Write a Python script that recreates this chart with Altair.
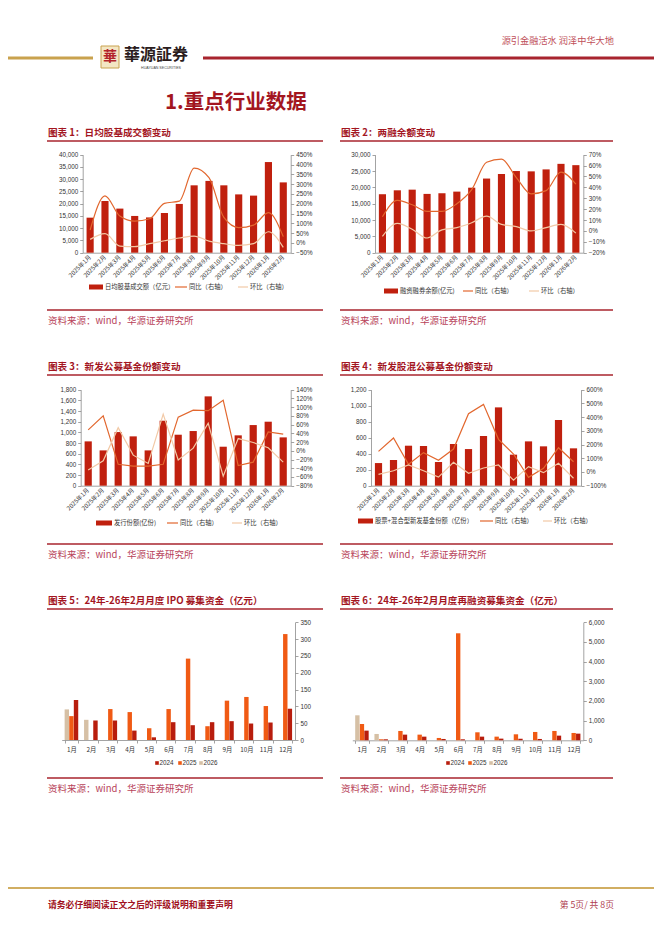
import altair as alt
import pandas as pd

# ---------------- data ----------------
months14 = ["2025年1月", "2025年2月", "2025年3月", "2025年4月", "2025年5月", "2025年6月", "2025年7月",
            "2025年8月", "2025年9月", "2025年10月", "2025年11月", "2025年12月", "2026年1月", "2026年2月"]

turnover = [14300, 21100, 18000, 15000, 14400, 16200, 19900, 27500, 29300, 27500, 23800, 23300, 37000, 28700]
turnover_yoy = [66, 240, 137, 111, 123, 202, 213, 382, 333, 130, 78, 91, 154, 32]
turnover_mom = [18, 47, -16, -19, -4, 11, 25, 35, 9, -4, -13, -4, 57, -23]

margin = [17900, 19100, 19300, 18000, 18200, 18700, 19900, 22700, 24100, 25000, 24900, 25500, 27200, 26800]
margin_yoy = [13, 28, 24, 18, 18, 25, 38, 63, 66, 49, 34, 37, 54, 43]
margin_mom = [-5, 7, 1.5, -6.5, 1, 3, 7.5, 13.5, 6, 4, 0, 3, 6, -2]

fund = [831, 662, 1006, 925, 662, 1219, 956, 1025, 1675, 731, 944, 1137, 1200, 906]
fund_yoy = [48, 80, -31, -35, -35, -31, 77, 93, 92, 116, -34, -26, 43, 38]
fund_mom = [-44, -23, 53, -10, -29, 84, -21, 6, 63, -58, 28, 19, 7, -26]

eq_fund = [283, 321, 500, 496, 296, 521, 458, 621, 979, 388, 554, 492, 821, 467]
eq_fund_yoy = [150, 248, 56, 141, 85, 167, 425, 493, 238, 131, -39, 27, 177, 75]
eq_fund_mom = [-17, 9, 51, 9, -37, 70, -10, 29, 51, -59, 39, -5, 63, -46]

months12 = ["1月", "2月", "3月", "4月", "5月", "6月", "7月", "8月", "9月", "10月", "11月", "12月"]
years = ["2024", "2025", "2026"]
ipo_2024 = [119, 58, 58, 28, 8, 53, 44, 53, 56, 49, 52, 93]
ipo_2025 = [71, 0, 92, 83, 35, 92, 242, 41, 117, 128, 101, 315]
ipo_2026 = [91, 60]
refi_2024 = [492, 51, 288, 186, 68, 51, 186, 85, 85, 68, 237, 339]
refi_2025 = [830, 51, 475, 288, 119, 5441, 407, 186, 305, 424, 475, 373]
refi_2026 = [1271, 322]

# ---------------- styles ----------------
W, H = 646, 920
CJK = "Noto Sans CJK SC"
NUM = "Liberation Sans, Noto Sans CJK SC"
BAR = "#C0200E"
YOY = "#E2672E"
MOM = "#F2C9A6"
C24, C25, C26 = "#B81D0D", "#F05A14", "#D6C0A5"
TITLE_RED = "#A3161F"
LINE_RED = "#A8252E"
SRC = "#B8435A"
GOLD = "#C9A24E"
AX = "#8C8C8C"
LAB = "#333333"

dummy = pd.DataFrame({"d": [0]})


def X(v):
    return v - 8


def Y(v):
    return v - 8


def txt(x, y, s, size, color, weight="normal", align="left", font=CJK):
    return alt.Chart(dummy).mark_text(align=align, baseline="middle", fontSize=size, color=color,
                                      fontWeight=weight, font=font).encode(
        x=alt.value(X(x)), y=alt.value(Y(y)), text=alt.value(s))


def hline(x0, x1, y, color, w):
    return alt.Chart(dummy).mark_rule(color=color, strokeWidth=w).encode(
        x=alt.value(X(x0)), x2=alt.value(X(x1)), y=alt.value(Y(y)))


def box(x0, x1, y0, y1, color, stroke=None):
    kw = {"color": color}
    if stroke:
        kw.update(stroke=stroke, strokeWidth=1)
    return alt.Chart(dummy).mark_rect(**kw).encode(
        x=alt.value(X(x0)), x2=alt.value(X(x1)), y=alt.value(Y(y0)), y2=alt.value(Y(y1)))


def axis_common(**kw):
    base = dict(title=None, grid=False, labelFont=NUM, labelFontSize=6.3, labelColor=LAB,
                domainColor=AX, tickColor=AX, domainWidth=0.8, tickWidth=0.8, tickSize=3,
                labelOverlap=False, labelFlush=False, labelBound=False, labelPadding=2)
    base.update(kw)
    return alt.Axis(**base)


def combo(bars, yoy, mom, x0, x1, ytop, ybot, ldom, lvals, rdom, rvals, interp):
    xr = [X(x0), X(x1)]
    yr = [Y(ybot), Y(ytop)]
    df = pd.DataFrame({"m": months14, "v": bars, "yoy": yoy, "mom": mom})

    def xs():
        return alt.Scale(type="band", domain=months14, range=xr, paddingInner=0.52, paddingOuter=0.26)

    bar = alt.Chart(df).mark_bar(color=BAR).encode(
        x=alt.X("m:N", scale=xs(), axis=axis_common(orient="bottom", offset=Y(ybot) - H, labelAngle=315,
                                                     labelAlign="right", labelBaseline="middle", ticks=False,
                                                     labelFont=CJK, labelFontSize=6.0, labelPadding=3)),
        y=alt.Y("v:Q", scale=alt.Scale(domain=ldom, range=yr, nice=False, zero=True),
                axis=axis_common(orient="left", offset=-X(x0), values=lvals,
                                 labelExpr="format(datum.value, ',.0f')")))
    l1 = alt.Chart(df).mark_line(color=YOY, strokeWidth=1.2, interpolate=interp).encode(
        x=alt.X("m:N", scale=xs(), axis=None, bandPosition=0.5),
        y=alt.Y("yoy:Q", scale=alt.Scale(domain=rdom, range=yr, nice=False, zero=False),
                axis=axis_common(orient="right", offset=X(x1) - W, values=rvals,
                                 labelExpr="format(datum.value, '.0f') + '%'")))
    l2 = alt.Chart(df).mark_line(color=MOM, strokeWidth=1.2, interpolate=interp).encode(
        x=alt.X("m:N", scale=xs(), axis=None, bandPosition=0.5),
        y=alt.Y("mom:Q", scale=alt.Scale(domain=rdom, range=yr, nice=False, zero=False), axis=None))
    return [bar, l1, l2]


def combo_legend(y, rx0, rx1, label, lx0, lx1, tx1, mx0, mx1, tx2):
    return [
        box(rx0, rx1, y - 2.5, y + 2.5, BAR),
        txt(rx1 + 2, y, label, 6.3, "#333333"),
        hline(lx0, lx1, y, YOY, 1.2),
        txt(tx1, y, "同比（右轴）", 6.3, "#333333"),
        hline(mx0, mx1, y, MOM, 1.2),
        txt(tx2, y, "环比（右轴）", 6.3, "#333333"),
    ]


def grouped(v24, v25, v26, x0, x1, ytop, ybot, dom, vals):
    rows = []
    for i, m in enumerate(months12):
        rows.append({"m": m, "yr": "2024", "v": v24[i]})
        rows.append({"m": m, "yr": "2025", "v": v25[i]})
        if i < len(v26):
            rows.append({"m": m, "yr": "2026", "v": v26[i]})
    df = pd.DataFrame(rows)
    ch = alt.Chart(df).mark_bar().encode(
        x=alt.X("m:N", scale=alt.Scale(type="band", domain=months12, range=[X(x0), X(x1)],
                                       paddingInner=0.3, paddingOuter=0.15),
                axis=axis_common(orient="bottom", offset=Y(ybot) - H, labelAngle=0, tickBand="extent",
                                 ticks=True, labelFont=CJK, labelFontSize=6.3, labelPadding=3)),
        xOffset=alt.XOffset("yr:N", scale=alt.Scale(domain=["2026", "2025", "2024"], paddingInner=0.04)),
        y=alt.Y("v:Q", scale=alt.Scale(domain=dom, range=[Y(ybot), Y(ytop)], nice=False, zero=True),
                axis=axis_common(orient="right", offset=X(x1) - W, values=vals,
                                 labelExpr="format(datum.value, ',.0f')")),
        color=alt.Color("yr:N", scale=alt.Scale(domain=years, range=[C24, C25, C26]), legend=None))
    return [ch]


def group_legend(y, xs):
    out = []
    for x, yr, c in zip(xs, years, [C24, C25, C26]):
        out.append(box(x - 1.8, x + 1.8, y - 1.8, y + 1.8, c))
        out.append(txt(x + 2.5, y, yr, 6.3, "#333333", font=NUM))
    return out


layers = []

# ---------------- header ----------------
layers += [
    hline(8, 93, 58, GOLD, 3),
    hline(203, 662, 58, LINE_RED, 3),
    box(101, 119, 46, 68, "#F3E6C4", stroke="#C9A24E"),
    txt(110, 57, "華", 14, "#B3232A", weight="bold", align="center"),
    txt(124, 55, "華源証券", 16, "#2B1D1D", weight="bold", font="Noto Sans CJK TC"),
    txt(161, 67.5, "HUAYUAN SECURITIES", 3.6, "#444444", align="center", font=NUM),
    txt(614, 41, "源引金融活水 润泽中华大地", 9.2, "#C0505A", align="right"),
    txt(165, 103, "1.重点行业数据", 20.5, TITLE_RED, weight="bold"),
]

# ---------------- section frames ----------------
titles = [
    ("图表 1：日均股基成交额变动", "图表 2：两融余额变动", 133),
    ("图表 3：新发公募基金份额变动", "图表 4：新发股混公募基金份额变动", 367),
    ("图表 5：24年-26年2月月度 IPO 募集资金（亿元）", "图表 6：24年-26年2月月度再融资募集资金（亿元）", 601),
]
for tl, tr, ty in titles:
    layers += [
        txt(48, ty, tl, 9.6, TITLE_RED, weight="bold"),
        txt(341, ty, tr, 9.6, TITLE_RED, weight="bold"),
        hline(47, 323, ty + 8, LINE_RED, 1.3),
        hline(340, 613, ty + 8, LINE_RED, 1.3),
        hline(47, 323, ty + 177, LINE_RED, 1.3),
        hline(340, 613, ty + 177, LINE_RED, 1.3),
        txt(48, ty + 188, "资料来源：wind，华源证券研究所", 9.5, SRC),
        txt(341, ty + 188, "资料来源：wind，华源证券研究所", 9.5, SRC),
    ]

# ---------------- charts ----------------
layers += combo(turnover, turnover_yoy, turnover_mom, 82.7, 290.7, 154.7, 252.7,
                [0, 40000], list(range(0, 40001, 5000)), [-50, 450], list(range(-50, 451, 50)), "monotone")
layers += combo_legend(287, 89, 103, "日均股基成交额（亿元）", 175, 187, 189, 238, 248, 250)

layers += combo(margin, margin_yoy, margin_mom, 375, 583.3, 154.7, 252.7,
                [0, 30000], list(range(0, 30001, 5000)), [-20, 70], list(range(-20, 71, 10)), "monotone")
layers += combo_legend(291, 384, 398, "融资融券余额(亿元)", 463, 473, 475, 529, 539, 541)

layers += combo(fund, fund_yoy, fund_mom, 80.7, 290.7, 389.7, 485.7,
                [0, 1800], list(range(0, 1801, 200)), [-80, 140], list(range(-80, 141, 20)), "linear")
layers += combo_legend(523, 96, 112, "发行份额(亿份)", 167, 178, 180, 232, 242, 244)

layers += combo(eq_fund, eq_fund_yoy, eq_fund_mom, 371, 581, 389.7, 485.7,
                [0, 1200], list(range(0, 1201, 200)), [-100, 600], list(range(-100, 601, 100)), "linear")
layers += combo_legend(521, 358, 373, "股票+混合型新发基金份额（亿份）", 480, 493, 495, 543, 552, 554)

layers += grouped(ipo_2024, ipo_2025, ipo_2026, 61.7, 295, 622.3, 740,
                  [0, 350], list(range(0, 351, 50)))
layers += group_legend(763, [157, 180, 201])

layers += grouped(refi_2024, refi_2025, refi_2026, 352.3, 583.3, 622.3, 740.3,
                  [0, 6000], list(range(0, 6001, 1000)))
layers += group_legend(763, [448, 470, 491])

# ---------------- footer ----------------
layers += [
    hline(8, 654, 888, "#D1AE62", 2),
    txt(48, 905, "请务必仔细阅读正文之后的评级说明和重要声明", 8.8, "#A01020", weight="bold"),
    txt(614, 905, "第 5页/ 共 8页", 8.8, "#B04050", align="right"),
]

chart = alt.layer(*layers).resolve_scale(
    x="independent", y="independent", color="independent", xOffset="independent"
).properties(
    width=W, height=H, autosize=alt.AutoSizeParams(type="none"), padding=0
).configure_view(stroke=None)

chart.save("out.html", embed_options={"renderer": "svg", "actions": False})
